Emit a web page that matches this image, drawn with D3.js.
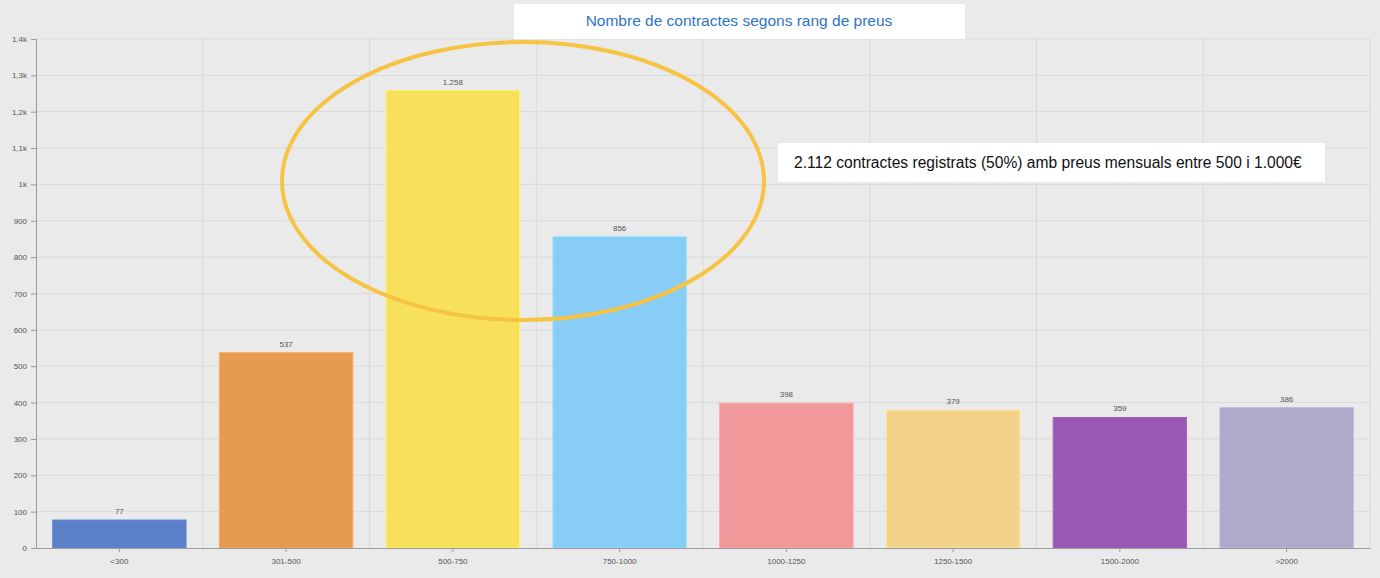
<!DOCTYPE html>
<html lang="ca">
<head>
<meta charset="UTF-8">
<title>Nombre de contractes segons rang de preus</title>
<script src="https://cdn.jsdelivr.net/npm/d3@7"></script>
<style>
  html, body { margin: 0; padding: 0; background: #eaeaea; }
  svg { display: block; font-family: "Liberation Sans", Arial, sans-serif; }
</style>
</head>
<body>
<div id="container"></div>
<script>
// data
var categories = ["<300", "301-500", "500-750", "750-1000", "1000-1250", "1250-1500", "1500-2000", ">2000"];
var values = [77, 537, 1258, 856, 398, 379, 359, 386];
var barColors = ["#5b80c8", "#e59b51", "#f7e15c", "#87cdf6", "#f1989a", "#f4d289", "#9a58b2", "#b0a9cb"];
var yTicks = [0, 100, 200, 300, 400, 500, 600, 700, 800, 900, 1000, 1100, 1200, 1300, 1400];

var W = 1380, H = 578;
var margin = { top: 39, right: 10, bottom: 30, left: 36 };
var width = W - margin.left - margin.right;
var height = H - margin.top - margin.bottom;

var svg = d3.select("#container").append("svg")
    .attr("width", W)
    .attr("height", H);

svg.append("rect").attr("width", W).attr("height", H).attr("fill", "#eaeaea");

var g = svg.append("g")
    .attr("transform", "translate(" + margin.left + "," + margin.top + ")");

var x = d3.scaleBand().domain(categories).range([0, width]).paddingInner(0.2).paddingOuter(0.1);
var y = d3.scaleLinear().domain([0, 1400]).range([height, 0]);

// number format, catalan style
var fmtThousands = d3.formatLocale({ decimal: ",", thousands: ".", grouping: [3], currency: ["", "€"] });
var fmtLabel = fmtThousands.format(",d");
function fmtTick(v) {
    if (v < 1000) return String(v);
    return fmtThousands.format(",")(v / 1000).replace(/,0$/, "") + "k";
}

// horizontal grid
g.append("g").selectAll("line")
    .data(yTicks.slice(1))
    .enter().append("line")
    .attr("x1", 0).attr("x2", width)
    .attr("y1", d => y(d)).attr("y2", d => y(d))
    .attr("stroke", "#dadada");

// vertical grid on category boundaries
var step = x.step();
var bounds = d3.range(1, categories.length).map(i => x(categories[i]) - step * x.paddingInner() / 2);
bounds.push(width);
g.append("g").selectAll("line")
    .data(bounds)
    .enter().append("line")
    .attr("x1", d => d).attr("x2", d => d)
    .attr("y1", 0).attr("y2", height)
    .attr("stroke", "#d9d9d9");

// bars
g.selectAll(".bar")
    .data(values)
    .enter().append("rect")
    .attr("class", "bar")
    .attr("x", (d, i) => x(categories[i]))
    .attr("y", d => y(d))
    .attr("width", x.bandwidth())
    .attr("height", d => height - y(d))
    .attr("fill", (d, i) => barColors[i])
    .attr("stroke", (d, i) => d3.color(barColors[i]).brighter(0.25))
    .attr("stroke-width", 1);

// value labels
g.selectAll(".val")
    .data(values)
    .enter().append("text")
    .attr("class", "val")
    .attr("x", (d, i) => x(categories[i]) + x.bandwidth() / 2)
    .attr("y", d => y(d) - 6)
    .attr("text-anchor", "middle")
    .attr("font-size", 8)
    .attr("fill", "#555")
    .text(d => fmtLabel(d));

// axes
var yAxis = g.append("g")
    .call(d3.axisLeft(y).tickValues(yTicks).tickFormat(fmtTick).tickSize(5).tickPadding(4));
yAxis.select(".domain").attr("stroke", "#9a9a9a");
yAxis.selectAll(".tick line").attr("stroke", "#9a9a9a");
yAxis.selectAll("text").attr("font-size", 8).attr("fill", "#555").attr("font-family", null);

var xAxis = g.append("g")
    .attr("transform", "translate(0," + height + ")")
    .call(d3.axisBottom(x).tickSize(4).tickSizeOuter(0).tickPadding(6));
xAxis.select(".domain").attr("stroke", "#9a9a9a");
xAxis.selectAll(".tick line").attr("stroke", "#9a9a9a");
xAxis.selectAll("text").attr("font-size", 8).attr("fill", "#555").attr("font-family", null);

// title box
svg.append("rect")
    .attr("x", 514).attr("y", 4).attr("width", 451).attr("height", 35)
    .attr("fill", "#ffffff");
svg.append("text")
    .attr("x", 739).attr("y", 26)
    .attr("text-anchor", "middle")
    .attr("font-size", 15.5)
    .attr("fill", "#2f74c4")
    .text("Nombre de contractes segons rang de preus");

// highlight ellipse around 500-1000
svg.append("ellipse")
    .attr("cx", 523).attr("cy", 181)
    .attr("rx", 241).attr("ry", 139)
    .attr("fill", "none")
    .attr("stroke", "#f6c343")
    .attr("stroke-width", 4);

// annotation box
svg.append("rect")
    .attr("x", 778).attr("y", 143).attr("width", 547).attr("height", 39)
    .attr("fill", "#ffffff");
svg.append("text")
    .attr("x", 794).attr("y", 168)
    .attr("font-size", 15.6)
    .attr("fill", "#111")
    .text("2.112 contractes registrats (50%) amb preus mensuals entre 500 i 1.000€");
</script>
</body>
</html>
